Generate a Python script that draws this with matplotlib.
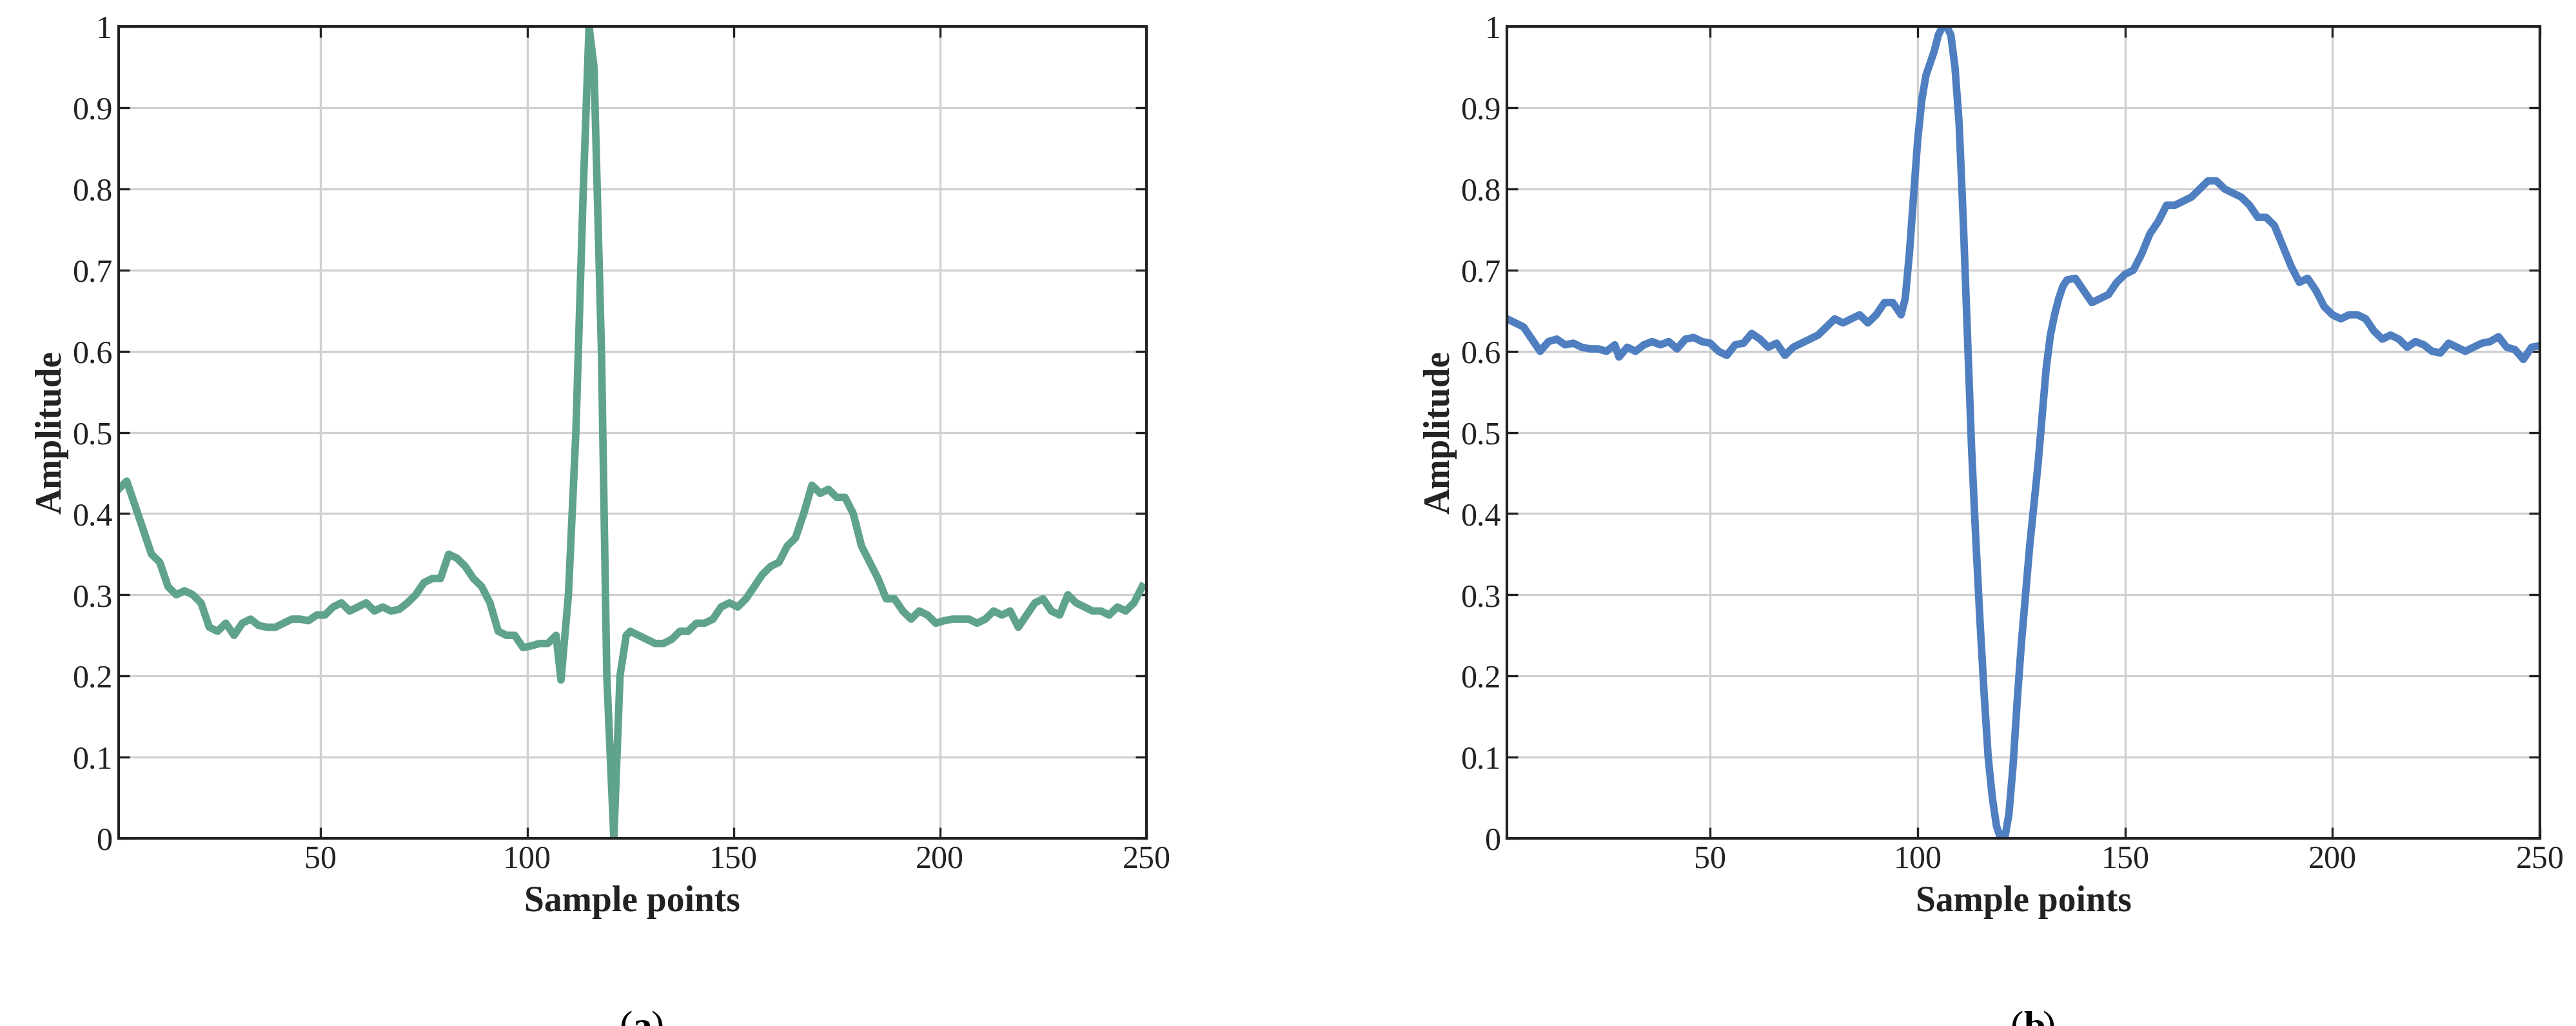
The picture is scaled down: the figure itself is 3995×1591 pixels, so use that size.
import matplotlib
matplotlib.use("Agg")
import matplotlib.pyplot as plt

plt.rcParams['font.family'] = ['Liberation Serif', 'DejaVu Serif']

xa = [1,3,5,7,9,11,13,15,17,19,21,23,25,27,29,31,33,35,37,39,41,43,45,47,49,51,53,55,57,59,61,63,65,67,69,71,73,75,77,79,81,83,85,87,89,91,93,95,97,99,101,103,105,107,
      108.2,110,111.8,113.6,115,116.2,118,119.3,121,122.5,124,
      125,127,129,131,133,135,137,139,141,143,145,147,149,151,153,155,157,159,161,163,165,167,169,171,173,175,177,179,181,183,185,187,189,191,193,195,197,199,201,203,205,207,209,211,213,215,217,219,221,223,225,227,229,231,233,235,237,239,241,243,245,247,249]
ya = [0.43,0.44,0.41,0.38,0.35,0.34,0.31,0.30,0.305,0.30,0.29,0.26,0.255,0.265,0.25,0.265,0.27,0.262,0.26,0.26,0.265,0.27,0.27,0.268,0.275,0.275,0.285,0.29,0.28,0.285,0.29,0.28,0.285,0.28,0.282,0.29,0.30,0.315,0.32,0.32,0.35,0.345,0.335,0.32,0.31,0.29,0.255,0.25,0.25,0.235,0.237,0.24,0.24,0.25,
      0.195,0.30,0.50,0.80,1.0,0.95,0.60,0.20,0.0,0.20,0.25,
      0.255,0.25,0.245,0.24,0.24,0.245,0.255,0.255,0.265,0.265,0.27,0.285,0.29,0.285,0.295,0.31,0.325,0.335,0.34,0.36,0.37,0.40,0.435,0.425,0.43,0.42,0.42,0.40,0.36,0.34,0.32,0.295,0.295,0.28,0.27,0.28,0.275,0.265,0.268,0.27,0.27,0.27,0.265,0.27,0.28,0.275,0.28,0.26,0.275,0.29,0.295,0.28,0.275,0.30,0.29,0.285,0.28,0.28,0.275,0.285,0.28,0.29,0.31]

xb = [1,3,5,7,9,11,13,15,17,19,21,23,25,27,28,30,32,34,36,38,40,42,44,46,48,50,52,54,56,58,60,62,64,66,68,70,72,74,76,78,80,82,84,86,88,90,92,94,96,
      97,98,99,100,101,102,103,104,105,106,107,108,109,110,111,112,113,114,115,116,117,118,119,120,121,122,123,124,125,126,127,128,129,130,131,132,133,134,135,136,
      138,140,142,144,146,148,150,152,154,156,158,160,162,164,166,168,170,172,174,176,178,180,182,184,186,188,190,192,194,196,198,200,202,204,206,208,210,212,214,216,218,220,222,224,226,228,230,232,234,236,238,240,242,244,246,248,250]
yb = [0.64,0.635,0.63,0.615,0.60,0.612,0.615,0.608,0.61,0.605,0.603,0.603,0.60,0.608,0.593,0.605,0.60,0.608,0.612,0.608,0.612,0.603,0.615,0.617,0.612,0.61,0.60,0.595,0.608,0.61,0.622,0.615,0.605,0.61,0.595,0.605,0.61,0.615,0.62,0.63,0.64,0.635,0.64,0.645,0.635,0.645,0.66,0.66,0.645,
      0.665,0.72,0.79,0.86,0.91,0.94,0.955,0.97,0.99,1.0,1.0,0.99,0.95,0.88,0.76,0.62,0.48,0.37,0.27,0.18,0.10,0.05,0.015,0.0,0.0,0.03,0.09,0.17,0.24,0.30,0.36,0.41,0.46,0.52,0.58,0.62,0.645,0.665,0.68,0.688,
      0.69,0.675,0.66,0.665,0.67,0.685,0.695,0.70,0.72,0.745,0.76,0.78,0.78,0.785,0.79,0.80,0.81,0.81,0.80,0.795,0.79,0.78,0.765,0.765,0.755,0.73,0.705,0.685,0.69,0.675,0.655,0.645,0.64,0.645,0.645,0.64,0.625,0.615,0.62,0.615,0.605,0.612,0.608,0.60,0.598,0.61,0.605,0.60,0.605,0.61,0.612,0.618,0.605,0.602,0.59,0.605,0.607]

fig = plt.figure(figsize=(19.975, 7.955), dpi=200)
axes = [fig.add_axes([0.046, 0.183, 0.399, 0.791]), fig.add_axes([0.585, 0.183, 0.401, 0.791])]
specs = [(xa, ya, '#5fa38a', (1, 249), 'a'), (xb, yb, '#4f7fc0', (1, 250), 'b')]
for ax, (x, y, c, xl, lab) in zip(axes, specs):
    ax.plot(x, y, color=c, lw=4.2)
    ax.set_xlim(*xl)
    ax.set_ylim(0, 1)
    ax.set_xticks([50, 100, 150, 200, 250])
    ax.set_yticks([i/10 for i in range(11)])
    ax.set_yticklabels(['0'] + [f'{i/10:.1f}' for i in range(1, 10)] + ['1'])
    ax.grid(True, color='#d0d0d0', lw=1.2)
    ax.tick_params(direction='in', top=True, right=True, labelsize=18, length=6, width=1.2, colors='#222222')
    for s in ax.spines.values():
        s.set_linewidth(1.5); s.set_color('#222222')
    ax.set_xlabel('Sample points', fontsize=20, fontweight='bold', color='#222222', labelpad=6)
    ax.set_ylabel('Amplitude', fontsize=20, fontweight='bold', color='#222222', labelpad=2)
    ax.text(0.5, -0.235, '(', transform=ax.transAxes, ha='right', va='center', fontsize=22)
    ax.text(0.5, -0.235, lab, transform=ax.transAxes, ha='left', va='center', fontsize=22, fontweight='bold')
    ax.text(0.5 + 0.018, -0.235, ')', transform=ax.transAxes, ha='left', va='center', fontsize=22)
fig.savefig('out.png', dpi=200)
